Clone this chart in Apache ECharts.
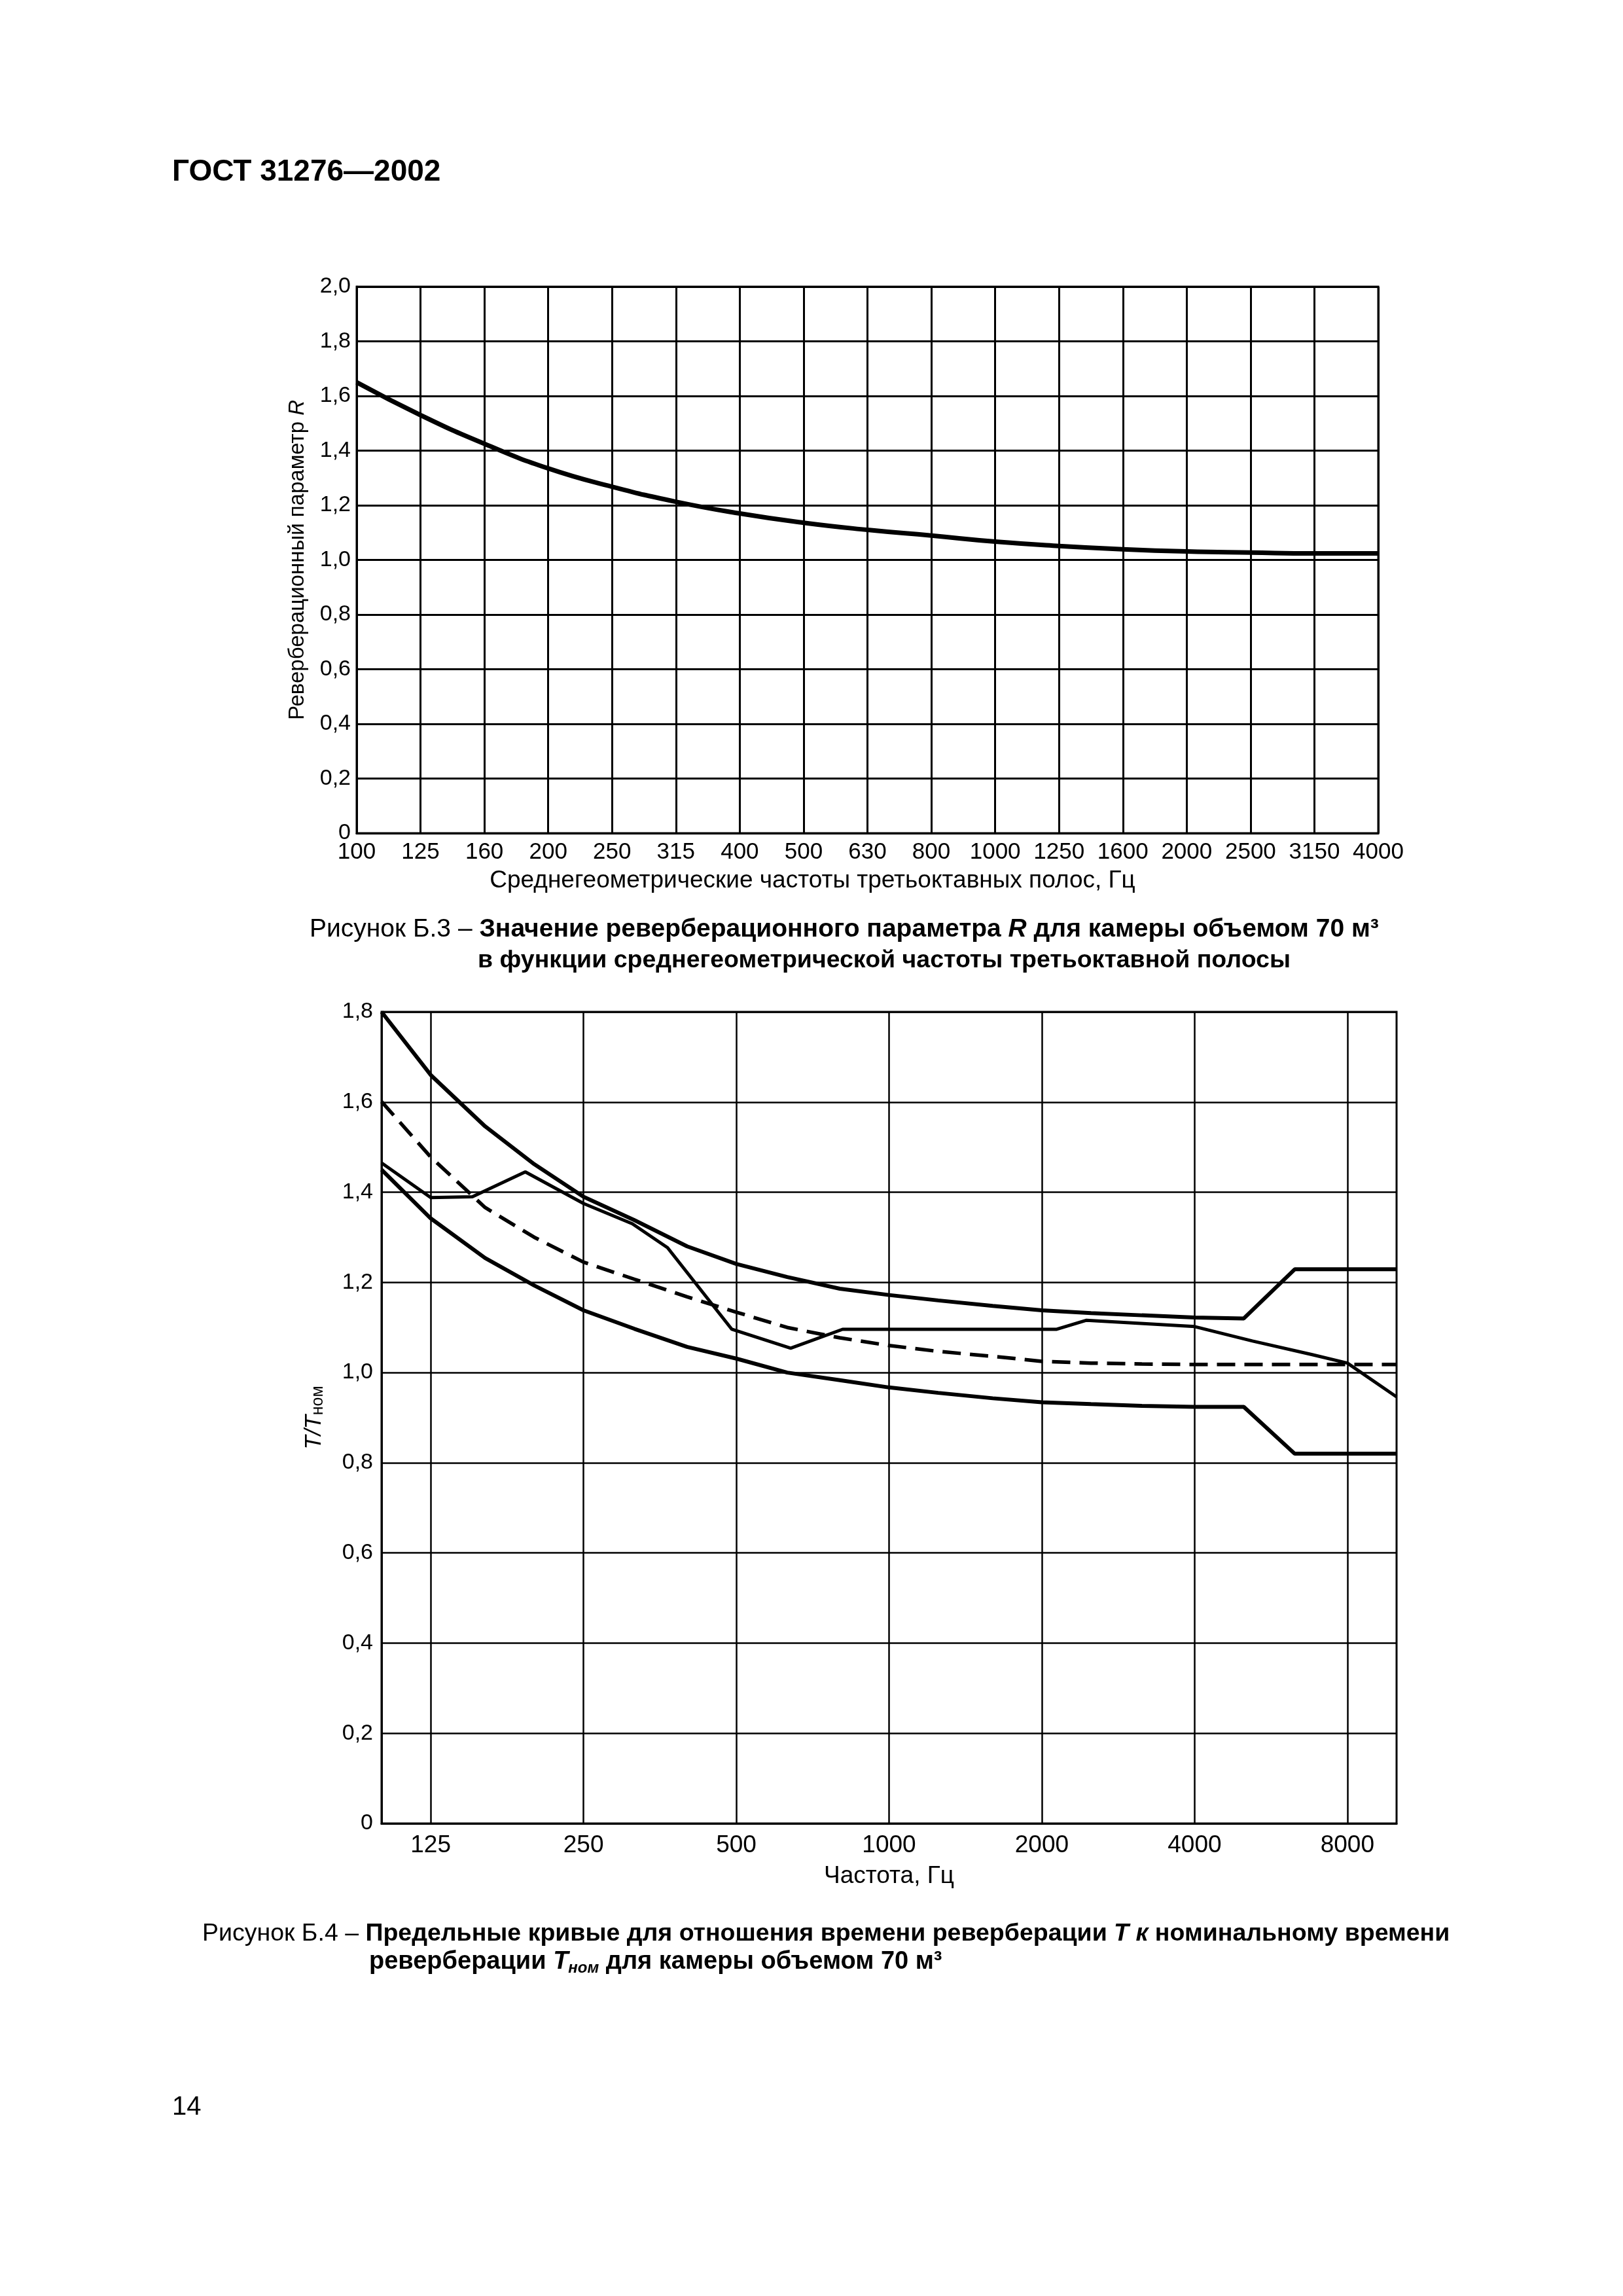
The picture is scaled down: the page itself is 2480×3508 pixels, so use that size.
<!DOCTYPE html>
<html><head><meta charset="utf-8">
<script src="https://cdn.jsdelivr.net/npm/echarts@6/dist/echarts.min.js"></script>
<style>html,body{margin:0;padding:0;background:#fff}#c{width:2480px;height:3508px}</style>
</head><body><div id="c"></div>
<script>
// ---------- Figure B.3 data ----------
const topFreqs = ['100','125','160','200','250','315','400','500','630','800','1000','1250','1600','2000','2500','3150','4000'];
const topR = [1.65,1.53,1.425,1.335,1.268,1.213,1.17,1.136,1.11,1.089,1.067,1.051,1.039,1.031,1.027,1.024,1.024];

// ---------- Figure B.4 data ----------
const octaveTicks = [125,250,500,1000,2000,4000,8000];
const thirdOct = [100,125,160,200,250,315,400,500,630,800,1000,1250,1600,2000,2500,3150,4000,5000,6300,8000,10000];
const upperLimit = [1.80,1.66,1.546,1.462,1.39,1.338,1.28,1.241,1.212,1.186,1.172,1.16,1.148,1.138,1.132,1.127,1.122,1.12,1.229,1.229,1.229];
const lowerLimit = [1.45,1.342,1.254,1.193,1.138,1.097,1.057,1.031,1.0,0.983,0.967,0.955,0.943,0.934,0.93,0.926,0.924,0.924,0.82,0.82,0.82];
const nominal = [1.601,1.478,1.366,1.30,1.245,1.207,1.168,1.134,1.10,1.077,1.06,1.047,1.036,1.025,1.021,1.019,1.018,1.018,1.018,1.018,1.018];
const measFreq = [100,125,151,192,250,312,366,490,640,810,2140,2450,4000,5200,6800,8000,10000];
const measVal  = [1.465,1.388,1.39,1.445,1.375,1.33,1.277,1.096,1.054,1.096,1.096,1.116,1.102,1.07,1.04,1.021,0.946];

const FF = "'Liberation Sans', Arial, sans-serif";
const fmtY = v => (Math.abs(v) < 1e-9 ? '0' : v.toFixed(1).replace('.', ','));
const pairs = (fs, vs) => fs.map((f, i) => [Math.log10(f), vs[i]]);
const gridLine = w => ({show: true, lineStyle: {color: '#000', width: w}});

const chart = echarts.init(document.getElementById('c'), null, {renderer: 'canvas'});
const option = {
  animation: false,
  backgroundColor: '#fff',
  textStyle: {fontFamily: FF, color: '#000'},
  grid: [
    {left: 545, top: 438, width: 1561, height: 835, show: true, borderColor: '#000', borderWidth: 3},
    {left: 583, top: 1546, width: 1551, height: 1240, show: true, borderColor: '#000', borderWidth: 3}
  ],
  xAxis: [
    {
      type: 'category', gridIndex: 0, data: topFreqs, boundaryGap: false,
      axisLine: {show: true, lineStyle: {color: '#000', width: 3}},
      axisTick: {show: false},
      axisLabel: {interval: 0, fontSize: 35, color: '#000', margin: 12, fontFamily: FF},
      splitLine: {show: true, interval: 0, lineStyle: {color: '#000', width: 3}},
      name: 'Среднегеометрические частоты третьоктавных полос, Гц',
      nameLocation: 'middle', nameGap: 54,
      nameTextStyle: {fontSize: 37, color: '#000', fontFamily: FF, padding: [0, 168, 0, 0]}
    },
    {
      type: 'value', gridIndex: 1, min: 2, max: 4,
      axisLine: {show: true, lineStyle: {color: '#000', width: 3}},
      axisTick: {show: false, customValues: octaveTicks.map(f => Math.log10(f))},
      axisLabel: {customValues: octaveTicks.map(f => Math.log10(f)),
        formatter: v => String(Math.round(Math.pow(10, v))),
        fontSize: 37, color: '#000', margin: 15, fontFamily: FF},
      splitLine: gridLine(2.5),
      name: 'Частота, Гц', nameLocation: 'middle', nameGap: 62,
      nameTextStyle: {fontSize: 37, color: '#000', fontFamily: FF}
    }
  ],
  yAxis: [
    {
      type: 'value', gridIndex: 0, min: 0, max: 2, interval: 0.2,
      axisLine: {show: true, lineStyle: {color: '#000', width: 3}},
      axisTick: {show: false},
      axisLabel: {formatter: fmtY, fontSize: 34, color: '#000', margin: 9, fontFamily: FF},
      splitLine: gridLine(3),
      name: '{a|Реверберационный параметр }{b|R}', nameRotate: 90, nameLocation: 'middle', nameGap: 74,
      nameTextStyle: {fontFamily: FF, color: '#000', rich: {
        a: {fontSize: 33, fontFamily: FF, color: '#000'},
        b: {fontSize: 33, fontFamily: FF, color: '#000', fontStyle: 'italic'}
      }}
    },
    {
      type: 'value', gridIndex: 1, min: 0, max: 1.8, interval: 0.2,
      axisLine: {show: true, lineStyle: {color: '#000', width: 3}},
      axisTick: {show: false},
      axisLabel: {formatter: fmtY, fontSize: 34, color: '#000', margin: 13, fontFamily: FF},
      splitLine: gridLine(2.5),
      name: '{i|T/T}{s|ном}', nameRotate: 90, nameLocation: 'middle', nameGap: 84,
      nameTextStyle: {fontFamily: FF, color: '#000', rich: {
        i: {fontSize: 35, lineHeight: 38, fontFamily: FF, color: '#000', fontStyle: 'italic'},
        s: {fontSize: 25, lineHeight: 16, verticalAlign: 'bottom', fontFamily: FF, color: '#000'}
      }}
    }
  ],
  series: [
    {type: 'line', xAxisIndex: 0, yAxisIndex: 0, data: topR, smooth: true, symbol: 'none',
     lineStyle: {color: '#000', width: 7}},
    {type: 'line', xAxisIndex: 1, yAxisIndex: 1, data: pairs(thirdOct, upperLimit), symbol: 'none',
     lineStyle: {color: '#000', width: 6}},
    {type: 'line', xAxisIndex: 1, yAxisIndex: 1, data: pairs(thirdOct, lowerLimit), symbol: 'none',
     lineStyle: {color: '#000', width: 6}},
    {type: 'line', xAxisIndex: 1, yAxisIndex: 1, data: pairs(thirdOct, nominal), symbol: 'none',
     lineStyle: {color: '#000', width: 5.5, type: [28, 14]}},
    {type: 'line', xAxisIndex: 1, yAxisIndex: 1, data: pairs(measFreq, measVal), symbol: 'none',
     lineStyle: {color: '#000', width: 5}}
  ],
  graphic: [
    {type: 'text', left: 263, top: 240, style: {text: 'ГОСТ 31276—2002', font: "bold 46px " + FF, fill: '#000'}},
    {type: 'text', x: 473, y: 1420, style: {
      text: '{n|Рисунок Б.3 – }{b|Значение реверберационного параметра }{bi|R}{b| для камеры объемом 70 м³}',
      textVerticalAlign: 'middle', rich: {
        n: {fontSize: 39, fontFamily: FF, fill: '#000'},
        b: {fontSize: 39, fontFamily: FF, fontWeight: 'bold', fill: '#000'},
        bi: {fontSize: 39, fontFamily: FF, fontWeight: 'bold', fontStyle: 'italic', fill: '#000'}
      }}},
    {type: 'text', x: 730, y: 1468, style: {
      text: 'в функции среднегеометрической частоты третьоктавной полосы',
      textVerticalAlign: 'middle', font: "bold 37.5px " + FF, fill: '#000'}},
    {type: 'text', x: 309, y: 2955, style: {
      text: '{n|Рисунок Б.4 – }{b|Предельные кривые для отношения времени реверберации }{bi|T к}{b| номинальному времени}',
      textVerticalAlign: 'middle', rich: {
        n: {fontSize: 37.5, fontFamily: FF, fill: '#000'},
        b: {fontSize: 37.5, fontFamily: FF, fontWeight: 'bold', fill: '#000'},
        bi: {fontSize: 37.5, fontFamily: FF, fontWeight: 'bold', fontStyle: 'italic', fill: '#000'}
      }}},
    {type: 'text', x: 564, y: 2998, style: {
      text: '{b|реверберации }{bi|T}{sub|ном}{b| для камеры объемом 70 м³}',
      textVerticalAlign: 'middle', rich: {
        b: {fontSize: 38, lineHeight: 42, fontFamily: FF, fontWeight: 'bold', fill: '#000'},
        bi: {fontSize: 38, lineHeight: 42, fontFamily: FF, fontWeight: 'bold', fontStyle: 'italic', fill: '#000'},
        sub: {fontSize: 24, lineHeight: 18, verticalAlign: 'bottom', fontFamily: FF, fontWeight: 'bold', fontStyle: 'italic', fill: '#000'}
      }}},
    {type: 'text', left: 263, top: 3200, style: {text: '14', font: "40px " + FF, fill: '#000'}}
  ]
};
chart.setOption(option);
</script>
</body></html>
